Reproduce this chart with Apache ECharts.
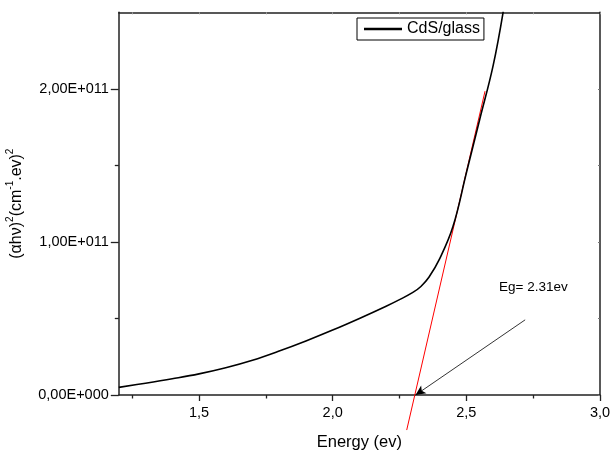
<!DOCTYPE html>
<html>
<head>
<meta charset="utf-8">
<script src="https://cdn.jsdelivr.net/npm/echarts@6/dist/echarts.min.js"></script>
<style>html,body{margin:0;padding:0;background:#fff}#c{width:610px;height:450px}</style>
</head>
<body>
<div id="c"></div>
<script>
// Data
var energy = [1.2, 1.3, 1.4, 1.5, 1.6, 1.7, 1.8, 1.9, 2.0, 2.1, 2.2, 2.25, 2.3, 2.33, 2.36, 2.4, 2.45, 2.5, 2.55, 2.6, 2.638];
var absorb = [0.050e11, 0.077e11, 0.106e11, 0.138e11, 0.178e11, 0.227e11, 0.287e11, 0.353e11, 0.424e11, 0.500e11, 0.580e11, 0.623e11, 0.670e11, 0.709e11, 0.769e11, 0.889e11, 1.10e11, 1.45e11, 1.80e11, 2.15e11, 2.505e11];
var fitX = [2.277, 2.570];
var fitY = [-0.229e11, 1.985e11];
var arrowFrom = [2.72, 0.491e11];
var arrowTo = [2.31, 0];
var xMajor = [1.5, 2.0, 2.5, 3.0];
var xMinor = [1.25, 1.75, 2.25, 2.75];
var yMajor = [0, 1e11, 2e11];
var yMinor = [0.5e11, 1.5e11];
var seriesName = 'CdS/glass';
var noteText = 'Eg= 2.31ev';

var FONT = '"Liberation Sans", Arial, sans-serif';
var axisCol = '#222';
function xf(v){ return v.toFixed(1).replace('.', ','); }
function yf(v){ return v === 0 ? '0,00E+000' : (v/1e11).toFixed(2).replace('.', ',') + 'E+011'; }

var chart = echarts.init(document.getElementById('c'), null, {renderer:'canvas'});
var xBase = {type:'value', min:1.2, max:3.0, splitLine:{show:false}};
var yBase = {type:'value', min:0, max:2.5e11, splitLine:{show:false}};
chart.setOption({
  animation:false,
  backgroundColor:'#fff',
  grid:{left:118.8, right:10, top:12.3, bottom:55, containLabel:false, outerBoundsMode:'none'},
  legend:{
    left:357, top:18, padding:[3,4,3,7], itemWidth:38, itemHeight:14,
    borderColor:'#000', borderWidth:1, borderRadius:0,
    textStyle:{fontFamily:FONT, fontSize:16, color:'#000'},
    data:[{name:seriesName, icon:'path://M0,0 L1,0 L1,0.06 L0,0.06 Z'}],
    itemStyle:{color:'#000'}
  },
  xAxis:[
    Object.assign({}, xBase, {position:'bottom',
      axisLine:{show:true, onZero:false, lineStyle:{color:axisCol, width:1.5}},
      axisTick:{show:true, inside:false, length:6, customValues:xMajor, lineStyle:{color:axisCol, width:1.3}},
      axisLabel:{show:true, customValues:xMajor, formatter:xf, margin:10, fontFamily:FONT, fontSize:14.5, color:'#000'},
      name:'Energy (ev)', nameLocation:'middle', nameGap:39,
      nameTextStyle:{fontFamily:FONT, fontSize:16.5, color:'#000'}}),
    Object.assign({}, xBase, {position:'bottom',
      axisLine:{show:false, onZero:false},
      axisTick:{show:true, inside:false, length:3.5, customValues:xMinor, lineStyle:{color:axisCol, width:1.3}},
      axisLabel:{show:false}}),
    Object.assign({}, xBase, {position:'top',
      axisLine:{show:true, onZero:false, lineStyle:{color:axisCol, width:1.5}},
      axisTick:{show:true, inside:true, length:2, customValues:xMinor.concat(xMajor), lineStyle:{color:'#999', width:1}},
      axisLabel:{show:false}})
  ],
  yAxis:[
    Object.assign({}, yBase, {position:'left',
      axisLine:{show:true, onZero:false, lineStyle:{color:axisCol, width:1.5}},
      axisTick:{show:true, inside:false, length:8, customValues:yMajor, lineStyle:{color:axisCol, width:1.3}},
      axisLabel:{show:true, customValues:yMajor, formatter:yf, margin:10, fontFamily:FONT, fontSize:14.5, color:'#000'},
      name:'(\u03b1h\u03bd){s|2}(cm{s|-1}.ev){s|2}', nameLocation:'middle', nameGap:87, nameRotate:90,
      nameTextStyle:{fontFamily:FONT, fontSize:16, color:'#000', lineHeight:22,
        rich:{s:{fontFamily:FONT, fontSize:10, color:'#000', lineHeight:22, verticalAlign:'top'}}}}),
    Object.assign({}, yBase, {position:'left',
      axisLine:{show:false, onZero:false},
      axisTick:{show:true, inside:false, length:4, customValues:yMinor, lineStyle:{color:axisCol, width:1.3}},
      axisLabel:{show:false}}),
    Object.assign({}, yBase, {position:'right',
      axisLine:{show:true, onZero:false, lineStyle:{color:axisCol, width:1.5}},
      axisTick:{show:true, inside:true, length:2, customValues:yMinor.concat(yMajor), lineStyle:{color:'#777', width:1}},
      axisLabel:{show:false}})
  ],
  graphic:[{type:'text', left:499, top:280, style:{text:noteText, font:'13.5px ' + FONT, fill:'#000'}}],
  series:[
    {name:seriesName, type:'line', xAxisIndex:0, yAxisIndex:0, smooth:0.4, symbol:'none',
     lineStyle:{color:'#000', width:1.6}, itemStyle:{color:'#000'}, z:4,
     data:energy.map(function(x,i){return [x, absorb[i]];})},
    {name:'fit', type:'line', xAxisIndex:0, yAxisIndex:0, symbol:'none', clip:false,
     lineStyle:{color:'#ff0000', width:1}, z:3,
     data:fitX.map(function(x,i){return [x, fitY[i]];}),
     markLine:{silent:true, symbol:['none','arrow'], symbolSize:[7,10], animation:false,
       label:{show:false}, lineStyle:{color:'#000', width:0.8, type:'solid'},
       data:[[{coord:arrowFrom}, {coord:arrowTo}]]}}
  ]
});
</script>
</body>
</html>
